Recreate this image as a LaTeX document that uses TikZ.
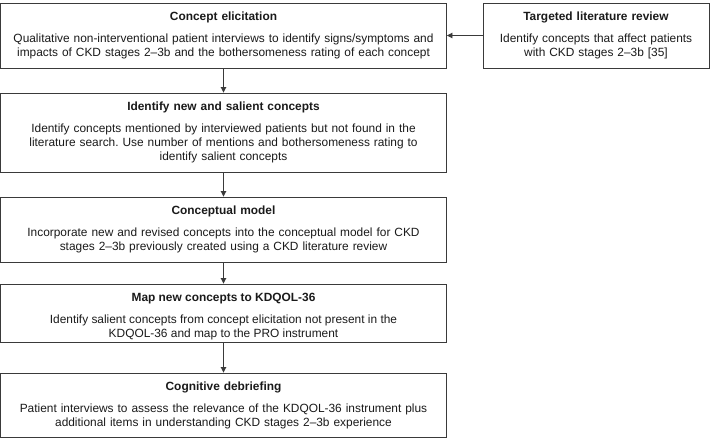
\documentclass[tikz,border=0pt]{standalone}
\usepackage{fontspec}
\setmainfont{Liberation Sans}
\usetikzlibrary{arrows.meta}
\definecolor{linec}{HTML}{3A3A3A}
\definecolor{textc}{HTML}{1A1A1A}
\frenchspacing
\tikzset{
  box/.style={draw=linec, line width=0.9pt, align=center, inner xsep=4pt, inner ysep=0pt,
    text=textc, font=\fontsize{11.9}{13.8}\selectfont},
  mainbox/.style={box, text width=438pt},
  sidebox/.style={box, text width=218pt},
  conn/.style={draw=linec, line width=0.9pt, -{Triangle[width=5.5pt,length=5.5pt]}}
}
\begin{document}
\begin{tikzpicture}[x=1pt,y=1pt]
\useasboundingbox (0,0) rectangle (712,-439);
\node[mainbox, minimum height=65pt] (b1) at (223.5,-35.5)
  {\textbf{Concept elicitation}\\[8.5pt]
   Qualitative non-interventional patient interviews to identify signs/symptoms and\\
   impacts of CKD stages 2--3b and the bothersomeness rating of each concept};
\node[sidebox, minimum height=65pt] (lit) at (596,-35.5)
  {\textbf{Targeted literature review}\\[8.5pt]
   Identify concepts that affect patients\\
   with CKD stages 2--3b [35]};
\node[mainbox, minimum height=79pt] (b2) at (223.5,-132.5)
  {\textbf{Identify new and salient concepts}\\[8.5pt]
   Identify concepts mentioned by interviewed patients but not found in the\\
   literature search. Use number of mentions and bothersomeness rating to\\
   identify salient concepts};
\node[mainbox, minimum height=65pt] (b3) at (223.5,-229.5)
  {\textbf{Conceptual model}\\[8.5pt]
   Incorporate new and revised concepts into the conceptual model for CKD\\
   stages 2--3b previously created using a CKD literature review};
\node[box, minimum width=446pt, minimum height=58pt] (b4) at (223.5,-313)
  {\raisebox{-3.5pt}[\height][\depth]{\parbox{438pt}{\centering
   \textbf{Map new concepts to KDQOL-36}\\[8.5pt]
   Identify salient concepts from concept elicitation not present in the\\
   KDQOL-36 and map to the PRO instrument}}};
\node[mainbox, minimum height=64pt] (b5) at (223.5,-405)
  {\textbf{Cognitive debriefing}\\[8.5pt]
   Patient interviews to assess the relevance of the KDQOL-36 instrument plus\\
   additional items in understanding CKD stages 2--3b experience};
\draw[conn] (lit.west) -- (b1.east);
\draw[conn] (b1.south) -- (b2.north);
\draw[conn] (b2.south) -- (b3.north);
\draw[conn] (b3.south) -- (b4.north);
\draw[conn] (b4.south) -- (b5.north);
\end{tikzpicture}
\end{document}
